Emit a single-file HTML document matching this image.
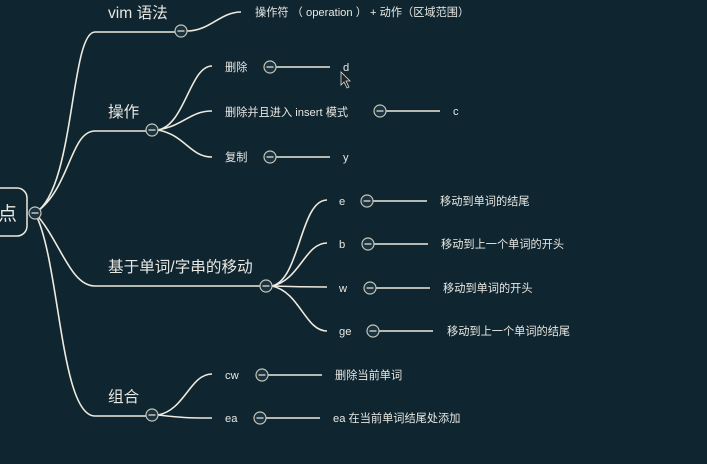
<!DOCTYPE html>
<html><head><meta charset="utf-8"><style>
html,body{margin:0;padding:0;background:#0f2530;}
svg{display:block}
text{font-family:"Liberation Sans","Noto Sans CJK SC",sans-serif;fill:#e8e8e2;}
.s{font-size:11.2px}
.m{font-size:15.6px}
path,line{stroke:#eeeade;stroke-width:1.6;fill:none}
circle{stroke:#c8c6b8;stroke-width:1.2;fill:#1a3340}
</style></head><body>
<svg width="707" height="464" viewBox="0 0 707 464">
<rect x="-20" y="188" width="47" height="48" rx="10" fill="none" stroke="#eeeade" stroke-width="1.5"/>
<text x="-2" y="220" style="font-size:19px">点</text>

<path d="M35 213 C75 190,70 32,95 32 L175 32"/>
<path d="M35 213 C70 190,70 131,95 131 L146 131"/>
<path d="M35 213 C60 240,70 286,95 286 L260 286"/>
<path d="M35 213 C60 260,60 416,95 416 L146 416"/>

<text class="m" x="108" y="18">vim 语法</text>
<text class="m" x="108" y="117">操作</text>
<text class="m" x="108" y="272">基于单词/字串的移动</text>
<text class="m" x="108" y="402">组合</text>

<path d="M187 31 C210 31,220 12,241 12"/>
<text class="s" x="255" y="16">操作符 （ operation ） + 动作（区域范围）</text>

<path d="M158 130 C185 125,190 66,212 66"/>
<path d="M158 130 C185 125,190 111,212 111"/>
<path d="M158 130 C185 135,190 157,212 157"/>
<text class="s" x="225" y="71">删除</text>
<text class="s" x="225" y="116">删除并且进入 insert 模式</text>
<text class="s" x="225" y="161">复制</text>
<line x1="276" y1="67" x2="330" y2="67"/><text class="s" x="343" y="71">d</text>
<line x1="386" y1="111" x2="440" y2="111"/><text class="s" x="453" y="115">c</text>
<line x1="276" y1="157" x2="330" y2="157"/><text class="s" x="343" y="161">y</text>

<path d="M272 286 C300 280,300 200,327 200"/>
<path d="M272 286 C300 280,305 243,327 243"/>
<path d="M272 286 C300 287,305 287,327 287"/>
<path d="M272 286 C300 292,305 331,327 331"/>
<text class="s" x="339" y="205">e</text>
<text class="s" x="339" y="248">b</text>
<text class="s" x="339" y="292">w</text>
<text class="s" x="339" y="335">ge</text>
<line x1="373" y1="201" x2="427" y2="201"/><text class="s" x="440" y="205">移动到单词的结尾</text>
<line x1="374" y1="244" x2="428" y2="244"/><text class="s" x="441" y="248">移动到上一个单词的开头</text>
<line x1="376" y1="288" x2="430" y2="288"/><text class="s" x="443" y="292">移动到单词的开头</text>
<line x1="379" y1="331" x2="433" y2="331"/><text class="s" x="447" y="335">移动到上一个单词的结尾</text>

<path d="M158 415 C185 410,190 374,212 374"/>
<path d="M158 415 C185 418,190 418,212 418"/>
<text class="s" x="225" y="379">cw</text>
<text class="s" x="225" y="422">ea</text>
<line x1="268" y1="375" x2="322" y2="375"/><text class="s" x="335" y="379">删除当前单词</text>
<line x1="266" y1="418" x2="320" y2="418"/><text class="s" x="333" y="422">ea 在当前单词结尾处添加</text>

<g>
<circle cx="35" cy="213" r="6"/><line x1="31.5" y1="213" x2="38.5" y2="213" style="stroke-width:1.2"/>
<circle cx="181" cy="31" r="6"/><line x1="177.5" y1="31" x2="184.5" y2="31" style="stroke-width:1.2"/>
<circle cx="152" cy="130" r="6"/><line x1="148.5" y1="130" x2="155.5" y2="130" style="stroke-width:1.2"/>
<circle cx="266" cy="286" r="6"/><line x1="262.5" y1="286" x2="269.5" y2="286" style="stroke-width:1.2"/>
<circle cx="152" cy="415" r="6"/><line x1="148.5" y1="415" x2="155.5" y2="415" style="stroke-width:1.2"/>
<circle cx="270" cy="67" r="6"/><line x1="266.5" y1="67" x2="273.5" y2="67" style="stroke-width:1.2"/>
<circle cx="380" cy="111" r="6"/><line x1="376.5" y1="111" x2="383.5" y2="111" style="stroke-width:1.2"/>
<circle cx="270" cy="157" r="6"/><line x1="266.5" y1="157" x2="273.5" y2="157" style="stroke-width:1.2"/>
<circle cx="367" cy="201" r="6"/><line x1="363.5" y1="201" x2="370.5" y2="201" style="stroke-width:1.2"/>
<circle cx="368" cy="244" r="6"/><line x1="364.5" y1="244" x2="371.5" y2="244" style="stroke-width:1.2"/>
<circle cx="370" cy="288" r="6"/><line x1="366.5" y1="288" x2="373.5" y2="288" style="stroke-width:1.2"/>
<circle cx="373" cy="331" r="6"/><line x1="369.5" y1="331" x2="376.5" y2="331" style="stroke-width:1.2"/>
<circle cx="262" cy="375" r="6"/><line x1="258.5" y1="375" x2="265.5" y2="375" style="stroke-width:1.2"/>
<circle cx="260" cy="418" r="6"/><line x1="256.5" y1="418" x2="263.5" y2="418" style="stroke-width:1.2"/>
</g>
<path d="M341 72 L341 85 L344 82 L347 88 L349 87 L346 81 L350 81 Z" style="fill:#222;stroke:#ddd;stroke-width:0.8"/>
</svg>
</body></html>
